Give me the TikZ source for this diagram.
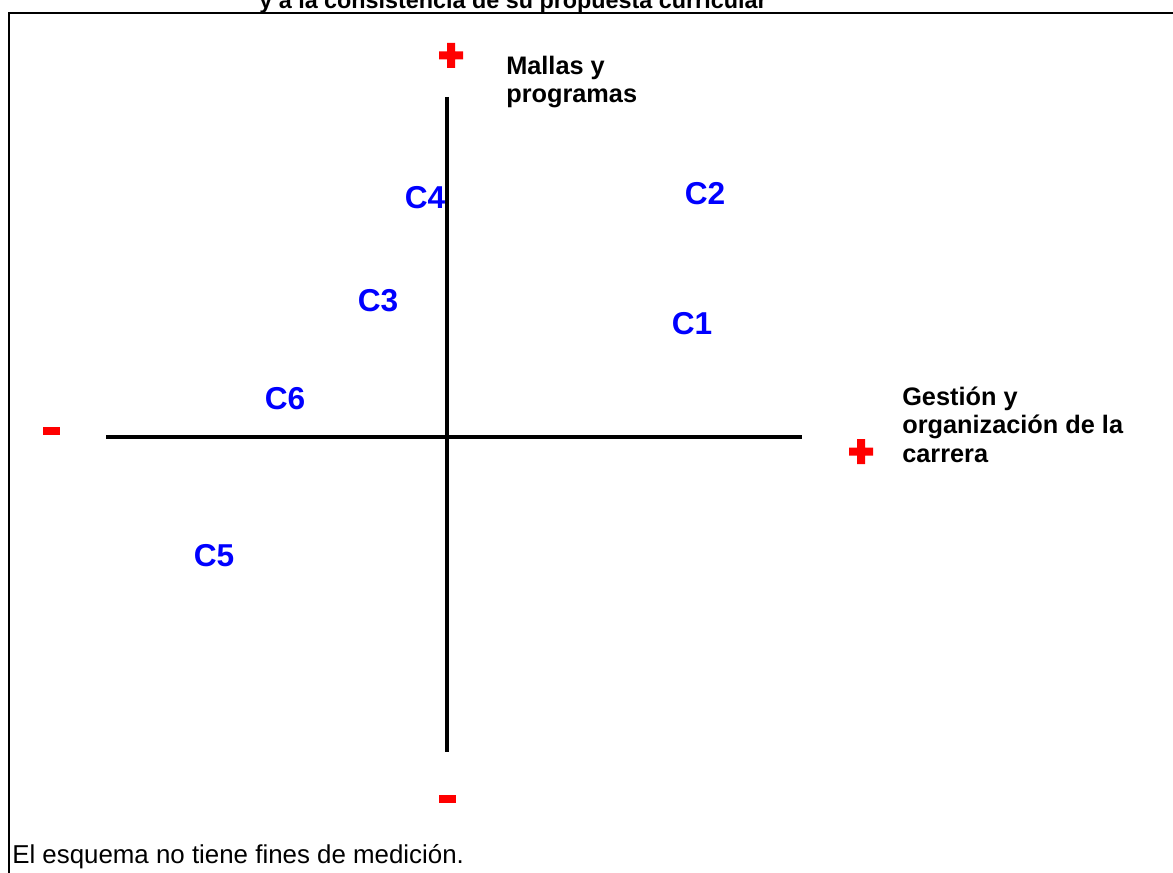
\documentclass[tikz,border=0pt]{standalone}
\usepackage{fontspec}
\setmainfont{Liberation Sans}
\usetikzlibrary{positioning}

\begin{document}
\begin{tikzpicture}[x=0.025cm,y=-0.025cm,
  eje/.style={line width=2.2pt},
  caso/.style={text={rgb,255:red,0;green,0;blue,255},inner sep=0pt,
    font=\fontsize{22.5}{25}\selectfont\bfseries},
  rotulo/.style={inner sep=0pt,align=left,
    font=\fontsize{18}{20.2}\selectfont\bfseries},
  signo/.style={fill={rgb,255:red,255;green,0;blue,0}}]
  \useasboundingbox (0,0) rectangle (1173,873);
  \clip (0,0) rectangle (1173,873);
  % Title (cut off at the top) and frame
  \path (513,9) node[anchor=base,inner sep=0pt,font=\fontsize{16.6}{19}\selectfont\bfseries] (titulo)
    {y a la consistencia de su propuesta curricular};
  \draw[line width=1.8pt] (9,880) -- (9,13) -- (1180,13);
  % Axes
  \coordinate (xizq) at (106,437);
  \coordinate (xder) at (802,437);
  \coordinate (yarr) at (447,97);
  \coordinate (yaba) at (447,752);
  \draw[eje] (xizq) -- (xder);
  \draw[eje] (yarr) -- (yaba);
  % Signs at the ends of the axes
  \fill[signo] (439,51.5) rectangle (463,59.5) (447,43) rectangle (455,68);
  \fill[signo] (849,447.5) rectangle (873,455.5) (857,439) rectangle (865,464);
  \fill[signo] (43,427) rectangle (60,435);
  \fill[signo] (439,795) rectangle (456,803);
  % Axis names
  \path (506,103) node[rotulo,anchor=base west] (mallas) {Mallas y\\programas};
  \path (902,462) node[rotulo,anchor=base west] (gestion) {Gesti\'on y\\organizaci\'on de la\\carrera};
  % Cases
  \path (425,197.5) node[caso] (C4) {C4};
  \path (705,194) node[caso] (C2) {C2};
  \path (378,301) node[caso] (C3) {C3};
  \path (692,324) node[caso] (C1) {C1};
  \path (285,399) node[caso] (C6) {C6};
  \path (214,556) node[caso] (C5) {C5};
  % Note
  \path (12,863) node[anchor=base west,inner sep=0pt,font=\fontsize{18.4}{21}\selectfont] (nota)
    {El esquema no tiene fines de medici\'on.};
\end{tikzpicture}
\end{document}
